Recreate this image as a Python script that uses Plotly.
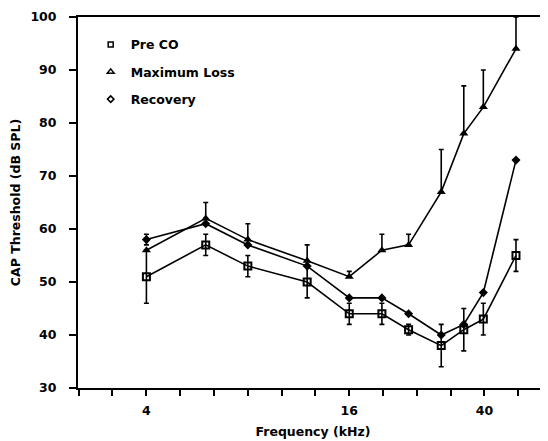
import plotly.graph_objects as go

freq_khz = [4, 6, 8, 12, 16, 20, 24, 30, 35, 40, 50]

pre_co = [51, 57, 53, 50, 44, 44, 41, 38, 41, 43, 55]
pre_co_err = [5, 2, 2, 3, 2, 2, 1, 4, 4, 3, 3]

max_loss = [56, 62, 58, 54, 51, 56, 57, 67, 78, 83, 94]
max_loss_err_up = [0, 3, 3, 3, 1, 3, 2, 8, 9, 7, 6]

recovery = [58, 61, 57, 53, 47, 47, 44, 40, 42, 48, 73]
recovery_err = [1, 0, 0, 0, 0, 0, 0, 0, 0, 0, 0]

x_tickvals = [2.52, 3.17, 4, 5.04, 6.35, 8, 10.08, 12.7, 16, 20.16, 25.4, 32, 40.3, 50.8]
x_ticktext = ["", "", "4", "", "", "", "", "", "16", "", "", "", "40", ""]
y_tickvals = [30, 40, 50, 60, 70, 80, 90, 100]

FONT = "DejaVu Sans"
FSIZE = 12.5
fig = go.Figure()

# data traces (not in legend)
fig.add_trace(go.Scatter(
    x=freq_khz, y=pre_co, mode="lines+markers", showlegend=False,
    line=dict(color="black", width=1.6),
    marker=dict(symbol="square-open", size=7, color="black", line=dict(width=2, color="black")),
    error_y=dict(type="data", array=pre_co_err, color="black", thickness=1.6, width=2.5),
))
fig.add_trace(go.Scatter(
    x=freq_khz, y=max_loss, mode="lines+markers", showlegend=False,
    line=dict(color="black", width=1.6),
    marker=dict(symbol="triangle-up", size=8, color="black"),
    error_y=dict(type="data", symmetric=False, array=max_loss_err_up,
                 arrayminus=[0] * len(max_loss), color="black", thickness=1.6, width=2.5),
))
fig.add_trace(go.Scatter(
    x=freq_khz, y=recovery, mode="lines+markers", showlegend=False,
    line=dict(color="black", width=1.6),
    marker=dict(symbol="diamond", size=7, color="black"),
    error_y=dict(type="data", array=recovery_err, color="black", thickness=1.6, width=2.5),
))

# legend entries (open symbols, no lines)
legend_items = [("Pre CO", "square-open", 5), ("Maximum Loss", "triangle-up-open", 6),
                ("Recovery", "diamond-open", 5)]
for i, (name, sym, sz) in enumerate(legend_items):
    fig.add_trace(go.Scatter(
        x=[None], y=[None], mode="markers", name=name, legendgroup=f"g{i}",
        marker=dict(symbol=sym, size=sz, color="black", line=dict(width=1.5, color="black")),
    ))

fig.update_layout(
    width=540, height=433,
    margin=dict(l=66, r=0, t=9, b=53),
    paper_bgcolor="white", plot_bgcolor="white",
    font=dict(family=FONT, size=FSIZE, color="black", weight="bold"),
    legend=dict(x=0.027, y=0.965, xanchor="left", yanchor="top",
                bgcolor="rgba(0,0,0,0)", tracegroupgap=8,
                font=dict(family=FONT, size=FSIZE, color="black", weight="bold")),
)
fig.update_xaxes(
    type="log", range=[0.399, 1.794],
    tickvals=x_tickvals, ticktext=x_ticktext,
    ticks="outside", ticklen=6, tickwidth=1.5, tickcolor="black",
    showline=True, linecolor="black", linewidth=2, mirror=True,
    showgrid=False, zeroline=False,
    tickfont=dict(family=FONT, size=FSIZE, weight="bold"),
    ticklabelstandoff=4,
    title=dict(text="Frequency (kHz)", font=dict(family=FONT, size=FSIZE, weight="bold"), standoff=10),
)
fig.update_yaxes(
    range=[30, 100], tickvals=y_tickvals,
    ticks="outside", ticklen=7, tickwidth=1.5, tickcolor="black",
    showline=True, linecolor="black", linewidth=2,
    showgrid=False, zeroline=False,
    tickfont=dict(family=FONT, size=FSIZE, weight="bold"),
    ticklabelstandoff=10,
    title=dict(text="CAP Threshold (dB SPL)", font=dict(family=FONT, size=FSIZE, weight="bold"), standoff=14),
)

fig.write_html("out.html")
